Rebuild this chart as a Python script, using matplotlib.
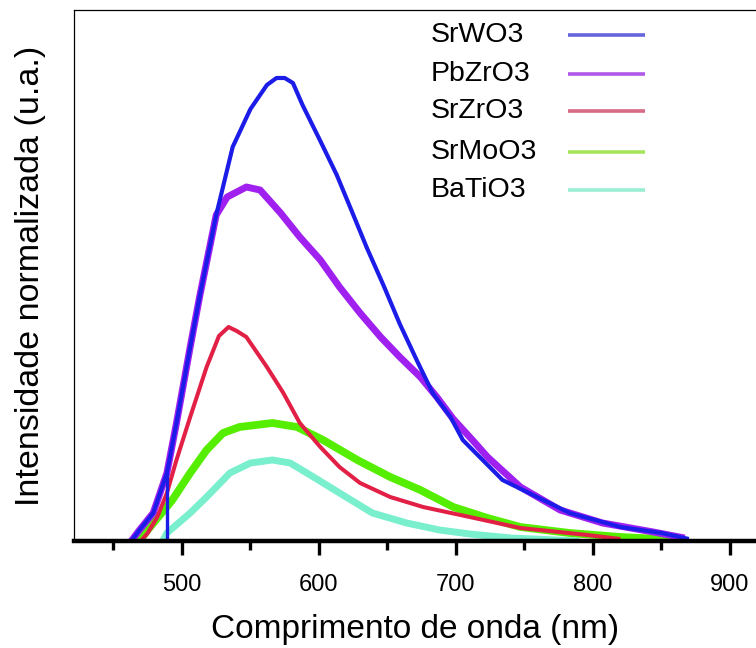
import matplotlib
matplotlib.use("Agg")
import matplotlib.pyplot as plt
import numpy as np

plt.rcParams['font.family'] = ['Liberation Sans', 'DejaVu Sans']

# espectros de emissao, normalizados pelo pico do SrWO3
esc = 462.0

nm_srwo3 = [463, 469, 479, 489, 496, 501, 506, 513, 525, 537, 550, 562, 569, 575, 581, 588, 601, 613, 623, 635,
            647, 659, 672, 683, 696, 705, 734, 783, 820, 850, 870]
v_srwo3 = [0, 11, 28, 68, 118, 156, 194, 245, 326, 394, 432, 456, 463, 463, 458, 436, 400, 366, 333, 293,
           256, 217, 179, 148, 124, 101, 61, 28, 14, 8, 2]
# corte vertical do filtro no SrWO3
nm_corte = [489, 489]
v_corte = [0, 66]

nm_pbzro3 = [463, 469, 479, 489, 496, 501, 506, 513, 525, 533, 547, 557, 572, 586, 601, 615, 630, 645, 659,
             674, 686, 698, 712, 723, 747, 776, 807, 844, 867]
v_pbzro3 = [0, 11, 28, 68, 118, 156, 194, 245, 326, 344, 354, 351, 328, 304, 281, 254, 228, 204, 184,
            164, 144, 122, 101, 84, 54, 31, 18, 9, 3]

nm_srzro3 = [470, 475, 482, 489, 496, 506, 518, 527, 534, 540, 547, 562, 574, 586, 601, 615, 630, 652, 676, 710,
             747, 796, 820]
v_srzro3 = [0, 8, 24, 48, 81, 124, 174, 205, 214, 210, 204, 174, 148, 118, 94, 74, 58, 44, 34, 24,
            13, 6, 2]

nm_srmoo3 = [469, 475, 493, 506, 518, 530, 542, 566, 584, 603, 628, 652, 674, 698, 723, 747, 783, 820, 864]
v_srmoo3 = [0, 11, 41, 68, 91, 108, 114, 118, 114, 101, 81, 64, 51, 34, 23, 14, 8, 4, 1]

nm_batio3 = [486, 489, 506, 518, 535, 550, 566, 579, 596, 615, 639, 664, 688, 710, 740, 790]
v_batio3 = [0, 8, 28, 44, 68, 78, 81, 78, 64, 48, 28, 18, 11, 7, 3, 0]

nomes = ["SrWO3", "PbZrO3", "SrZrO3", "SrMoO3", "BaTiO3"]
cores = ["#1c1ce8", "#a020f0", "#e21f45", "#55ee00", "#6ceec8"]
cores_leg = ["#4a4ad8", "#a43ce6", "#d0506e", "#98e040", "#88eccc"]
larguras = [3.0, 5.0, 2.9, 5.6, 5.0]

fig = plt.figure(figsize=(7.56, 6.48), dpi=100)
ax = fig.add_axes([74 / 756, 107 / 648, 682 / 756, 531 / 648])

def norm(v):
    return np.array(v) / esc

ax.plot(nm_batio3, norm(v_batio3), color=cores[4], lw=larguras[4], alpha=0.9, solid_capstyle='butt')
ax.plot(nm_srmoo3, norm(v_srmoo3), color=cores[3], lw=larguras[3], solid_capstyle='butt')
ax.plot(nm_srzro3, norm(v_srzro3), color=cores[2], lw=larguras[2], solid_capstyle='butt')
ax.plot(nm_pbzro3, norm(v_pbzro3), color=cores[1], lw=larguras[1], solid_capstyle='butt')
ax.plot(nm_srwo3, norm(v_srwo3), color=cores[0], lw=larguras[0], solid_capstyle='butt')
ax.plot(nm_corte, norm(v_corte), color=cores[0], lw=2.4)

ax.set_xlim(421.2, 919)
ax.set_ylim(0, 531 / esc)

# eixos: so o de baixo e grosso
ax.spines['bottom'].set_linewidth(3.2)
ax.spines['left'].set_linewidth(0.9)
ax.spines['top'].set_linewidth(0.9)
ax.spines['right'].set_visible(False)
ax.set_yticks([])
ax.set_xticks([500, 600, 700, 800, 900])
ax.set_xticks([450, 550, 650, 750, 850], minor=True)
ax.tick_params(axis='x', which='major', direction='out', length=10, width=2.4, pad=14, labelsize=17)
ax.tick_params(axis='x', which='minor', direction='out', length=6.5, width=2.4)

ax.set_xlabel("Comprimento de onda (nm)", fontsize=24, labelpad=13)
ax.set_ylabel("Intensidade normalizada (u.a.)", fontsize=24.5, labelpad=20)

# legenda feita a mao: nome a esquerda, linha curta a direita
leg_y = [35, 74, 111, 152, 190]
for nome, cor, yy in zip(nomes, cores_leg, leg_y):
    ya = (541 - yy) / 531
    ax.text((431 - 74) / 682, ya, nome, transform=ax.transAxes, fontsize=20.5,
            ha='left', va='center')
    ax.plot([(568 - 74) / 682, (645 - 74) / 682], [ya, ya], transform=ax.transAxes,
            color=cor, lw=2.6, alpha=0.85, solid_capstyle='butt')

fig.savefig("out.png", dpi=100)
